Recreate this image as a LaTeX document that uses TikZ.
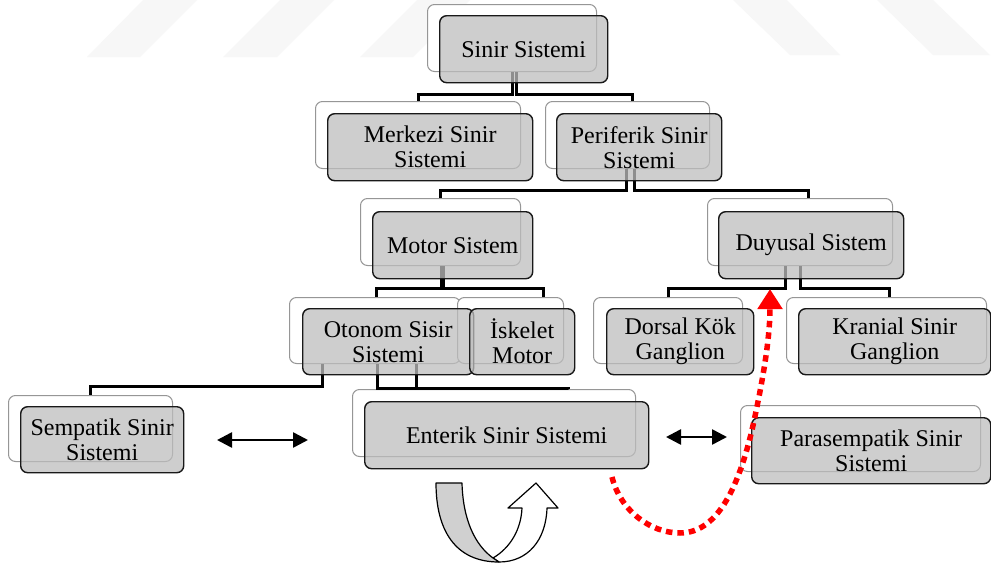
\documentclass[tikz,border=0pt]{standalone}
\usepackage{fontspec}
\setmainfont{Liberation Serif}
\usetikzlibrary{arrows.meta}
\pgfdeclarelayer{back}
\pgfdeclarelayer{mid}
\pgfsetlayers{back,mid,main}
\definecolor{frontfill}{RGB}{190,190,190}
\definecolor{backline}{RGB}{150,150,150}
\definecolor{wm}{RGB}{247,247,247}
\definecolor{uturn}{RGB}{208,208,208}
\newcommand{\dbox}[9]{%
  \begin{pgfonlayer}{back}\node[backbox, minimum width=#4pt, minimum height=#8pt] (#1B) at (#2,#3) {};\end{pgfonlayer}
  \node[frontbox, minimum width=#7pt, minimum height=#8pt] (#1) at (#5,#6) {#9};}
\begin{document}
\begin{tikzpicture}[x=1pt,y=-1pt,
  backbox/.style={draw=backline, line width=1pt, fill=white, rounded corners=7pt, anchor=north west, inner sep=0pt},
  frontbox/.style={draw=black!90, line width=1.4pt, fill=frontfill, fill opacity=0.75, text opacity=1, draw opacity=1,
    rounded corners=7pt, anchor=north west, inner sep=0pt, align=center, font=\rmfamily\fontsize{24}{25}\selectfont},
  conn/.style={line width=3pt, black},
  dbl/.style={line width=2.6pt, {Triangle[length=15pt,width=15pt]}-{Triangle[length=15pt,width=15pt]}},
  reddot/.style={red, line width=5.5pt, dash pattern=on 6.5pt off 5pt, -{Triangle[length=20pt,width=24pt]}},
  wmark/.style={fill=wm, draw=none},
  uturnline/.style={draw=black, line width=1.2pt, line join=round}
]
\useasboundingbox (0,0) rectangle (991,565);
% background and watermark stripes
\begin{pgfonlayer}{back}
\fill[white] (0,0) rectangle (991,565);
\fill[wmark] (87,57) -- (140,57) -- (197,0) -- (143,0) -- cycle;
\fill[wmark] (223,57) -- (277,57) -- (334,0) -- (280,0) -- cycle;
\fill[wmark] (360,57) -- (413,57) -- (470,0) -- (417,0) -- cycle;
\fill[wmark] (790,55) -- (840,55) -- (787,0) -- (733,0) -- cycle;
\fill[wmark] (933,55) -- (990,55) -- (933,0) -- (877,0) -- cycle;
\end{pgfonlayer}
% boxes: name, back x, back y, back w, front x, front y, front w, h, text
\dbox{sinir}{427}{4}{169}{439}{15}{168}{67}{Sinir Sistemi}
\dbox{merkezi}{315}{101}{205}{327}{113}{205}{67}{Merkezi Sinir\\Sistemi}
\dbox{perif}{545}{101}{164}{556}{113}{165}{67}{Periferik Sinir\\Sistemi}
\dbox{motor}{360}{198}{160}{372}{211}{160}{67}{Motor Sistem}
\dbox{duyusal}{707}{198}{185}{718}{211}{185}{67}{Duyusal Sistem}
\dbox{otonom}{289}{297}{171}{302}{308}{171}{66}{Otonom Sisir\\Sistemi}
\dbox{iskelet}{457}{297}{106}{469}{308}{105}{66}{İskelet\\Motor}
\dbox{dorsal}{593}{297}{149}{606}{308}{147}{66}{Dorsal Kök\\Ganglion}
\dbox{kranial}{786}{297}{200}{798}{308}{192}{66}{Kranial Sinir\\Ganglion}
\dbox{sempatik}{8}{395}{164}{20}{406}{163}{66}{Sempatik Sinir\\Sistemi}
\dbox{enterik}{352}{389}{283}{364}{401}{284}{67}{Enterik Sinir Sistemi}
\dbox{para}{740}{405}{240}{751}{417}{239}{66}{Parasempatik Sinir\\Sistemi}
% connectors
\begin{pgfonlayer}{mid}
\draw[conn] (sinirB.south) -- ++(0,22) -| (merkeziB.north);
\draw[conn] ([xshift=4pt]sinirB.south) -- ++(0,22) -| ([xshift=5pt]perifB.north);
\draw[conn] ([xshift=-1pt]perifB.south) -- ++(0,21) -| (motorB.north);
\draw[conn] ([xshift=7pt]perifB.south) -- ++(0,21) -| ([xshift=8.5pt]duyusalB.north);
\draw[conn] ([xshift=1pt]motorB.south) -- ++(0,22) -| ([xshift=1.5pt]otonomB.north);
\draw[conn] ([xshift=3pt]motorB.south) -- ++(0,22) -| ([xshift=33pt]iskeletB.north);
\draw[conn] ([xshift=-14.5pt]duyusalB.south) -- ++(0,22) -| (dorsalB.north);
\draw[conn] (duyusalB.south) -- ++(0,22) -| ([xshift=3pt]kranialB.north);
\draw[conn] ([xshift=-52.5pt]otonomB.south) -- ++(0,22) -| (sempatikB.north);
\draw[conn] ([xshift=2.5pt]otonomB.south) -- ++(0,24) -| ([xshift=74.5pt]enterikB.north);
\draw[conn] ([xshift=41.5pt]otonomB.south) -- ++(0,24) -| ([xshift=74.5pt]enterikB.north);
\end{pgfonlayer}
% double arrows
\coordinate (sa) at (217,440);
\coordinate (sb) at (308,440);
\coordinate (pa) at (666,437);
\coordinate (pb) at (727,437);
\draw[dbl] (sa) -- (sb);
\draw[dbl] (pa) -- (pb);
% U-turn arrow
\filldraw[uturnline, fill=white] (493,558) .. controls (510,548) and (521,530) .. (522,508) -- (508,508) -- (536,483) -- (558,508) -- (547,508) .. controls (546,540) and (528,562) .. (499,562) -- cycle;
\filldraw[uturnline, fill=uturn] (436,483) -- (462,483) .. controls (463,520) and (475,545) .. (493,558) -- (499,562) .. controls (455,562) and (436,530) .. (436,483) -- cycle;
% red dotted arrow
\coordinate (rs) at (612,477);
\coordinate (re) at (770,289);
\draw[reddot] (rs) .. controls (620,510) and (650,533) .. (680,533) .. controls (720,533) and (740,480) .. (752,430) .. controls (762,385) and (770,340) .. (re);
\end{tikzpicture}
\end{document}
